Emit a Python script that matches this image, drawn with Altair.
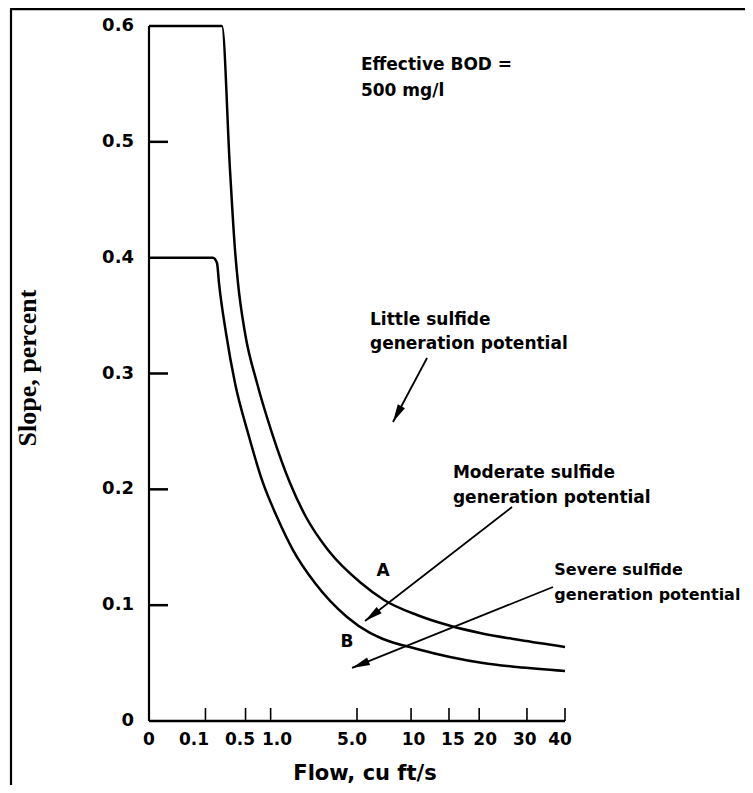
import math
import altair as alt
import pandas as pd

# ---- data ----
a_flow = [0, 0.216, 0.2953, 0.3534, 0.3917, 0.4916, 0.700, 1.034, 1.558, 2.150, 3.187, 5.294, 7.210, 10.695, 15.30, 20.15, 28.37, 40]
a_slope = [0.600, 0.600, 0.4757, 0.4067, 0.3781, 0.3350, 0.2918, 0.2486, 0.2055, 0.1761, 0.1476, 0.1191, 0.1045, 0.0915, 0.0820, 0.0760, 0.0699, 0.0639]

b_flow = [0, 0.1456, 0.1747, 0.1906, 0.2537, 0.3534, 0.5391, 0.8232, 1.1652, 1.659, 2.5416, 4.313, 5.997, 7.119, 10.695, 15.152, 20.70, 27.69, 40]
b_slope = [0.400, 0.400, 0.3954, 0.3781, 0.3350, 0.2918, 0.2486, 0.2055, 0.1761, 0.1476, 0.1191, 0.0898, 0.0760, 0.0708, 0.0622, 0.0553, 0.0501, 0.0466, 0.0432]

x_tick_values = [0, 0.1, 0.5, 1, 5, 10, 15, 20, 30, 40]
x_tick_labels = ["0", "0.1", "0.5", "1.0", "5.0", "10", "15", "20", "30", "40"]
x_label_flow = [0, 0.0506, 0.4187, 1.165, 4.648, 10.28, 15.6, 21.1, 29.5, 38.6]
y_tick_values = [0, 0.1, 0.2, 0.3, 0.4, 0.5, 0.6]
y_tick_labels = ["0", "0.1", "0.2", "0.3", "0.4", "0.5", "0.6"]

x_title = "Flow, cu ft/s"
y_title = "Slope, percent"

note_lines = ["Effective BOD  =", "500 mg/l",
              "Little sulfide", "generation potential",
              "Moderate sulfide", "generation potential",
              "Severe sulfide", "generation potential"]
note_flow = [5.29, 5.29, 6.0, 6.0, 15.6, 15.6, 37.0, 37.0]
note_slope = [0.562, 0.540, 0.342, 0.321, 0.210, 0.188, 0.126, 0.1045]
note_size = [17, 17, 17, 17, 17, 17, 16, 16]

curve_labels = ["A", "B"]
label_flow = [7.12, 4.31]
label_slope = [0.1295, 0.0682]

arrow_tail_flow = [11.94, 26.58, 36.64]
arrow_tail_slope = [0.3134, 0.1847, 0.1157]
arrow_head_flow = [8.07, 5.60, 4.65]
arrow_head_slope = [0.2581, 0.0863, 0.0458]

# ---- layout ----
W, H = 416, 695
XMAX, YMAX = 40, 0.6
FONT = "DejaVu Sans"


def px(v):
    return W * (v / XMAX) ** (1 / 3)


def py(v):
    return H * (1 - v / YMAX)


curves = pd.DataFrame({
    "flow": a_flow + b_flow,
    "slope": a_slope + b_slope,
    "curve": ["A"] * len(a_flow) + ["B"] * len(b_flow),
})
notes = pd.DataFrame({"flow": note_flow, "slope": note_slope, "text": note_lines, "size": note_size})
labels = pd.DataFrame({"flow": label_flow, "slope": label_slope, "text": curve_labels})
xlab = pd.DataFrame({"flow": x_label_flow, "text": x_tick_labels})
ylab = pd.DataFrame({"slope": y_tick_values, "text": y_tick_labels})

arrow_rows = []
head_rows = []
for i in range(len(arrow_tail_flow)):
    arrow_rows.append({"flow": arrow_tail_flow[i], "slope": arrow_tail_slope[i], "arrow": i, "o": 0})
    arrow_rows.append({"flow": arrow_head_flow[i], "slope": arrow_head_slope[i], "arrow": i, "o": 1})
    dx = px(arrow_head_flow[i]) - px(arrow_tail_flow[i])
    dy = py(arrow_head_slope[i]) - py(arrow_tail_slope[i])
    ang = math.degrees(math.atan2(dx, -dy)) % 360
    head_rows.append({"flow": arrow_head_flow[i], "slope": arrow_head_slope[i], "angle": ang})
arrows = pd.DataFrame(arrow_rows)
heads = pd.DataFrame(head_rows)

xscale = alt.Scale(type="pow", exponent=1 / 3, domain=[0, XMAX], nice=False, zero=True)
yscale = alt.Scale(domain=[0, YMAX], nice=False, zero=True)


def X(field="flow"):
    return alt.X(f"{field}:Q", scale=xscale, axis=None)


def Y(field="slope"):
    return alt.Y(f"{field}:Q", scale=yscale, axis=None)


main = alt.Chart(curves).mark_line(color="black", strokeWidth=2.5, interpolate="monotone").encode(
    x=X(), y=Y(), detail="curve:N",
)

one = pd.DataFrame({"k": [0]})
x_domain = alt.Chart(one).mark_rule(color="black", strokeWidth=2.6).encode(
    x=alt.X(datum=0, scale=xscale, axis=None), x2=alt.X2(datum=XMAX), y=alt.Y(datum=0, scale=yscale, axis=None)
)
y_domain = alt.Chart(one).mark_rule(color="black", strokeWidth=2.2).encode(
    x=alt.X(datum=0, scale=xscale, axis=None), y=alt.Y(datum=0, scale=yscale, axis=None), y2=alt.Y2(datum=YMAX)
)

xt = pd.DataFrame({"flow": x_tick_values[1:]})
x_ticks = alt.Chart(xt).mark_rule(color="black", strokeWidth=1.6).encode(
    x=X(), y=alt.value(H), y2=alt.value(H - 13),
)
yt = pd.DataFrame({"slope": [0.1, 0.2, 0.3, 0.5]})
y_ticks = alt.Chart(yt).mark_rule(color="black", strokeWidth=2.5).encode(
    y=Y(), x=alt.value(0), x2=alt.value(19),
)

x_labels = alt.Chart(xlab).mark_text(
    align="center", baseline="middle", font=FONT, fontSize=17, fontWeight="bold", color="black"
).encode(x=X(), y=alt.value(H + 19), text="text:N")
y_labels = alt.Chart(ylab).mark_text(
    align="right", baseline="middle", font=FONT, fontSize=18, fontWeight="bold", color="black"
).encode(y=Y(), x=alt.value(-15), text="text:N")

x_title_layer = alt.Chart(pd.DataFrame({"text": [x_title]})).mark_text(
    align="center", baseline="alphabetic", font=FONT, fontSize=21, fontWeight="bold", color="black"
).encode(x=alt.value(216), y=alt.value(754), text="text:N")
y_title_layer = alt.Chart(pd.DataFrame({"text": [y_title]})).mark_text(
    align="center", baseline="alphabetic", font="Liberation Serif", fontSize=26, fontWeight="bold",
    color="black", angle=270
).encode(x=alt.value(-113), y=alt.value(342), text="text:N")

note_layer = alt.Chart(notes).mark_text(
    align="left", baseline="alphabetic", font=FONT, fontWeight="bold", color="black"
).encode(x=X(), y=Y(), text="text:N", size=alt.Size("size:Q", scale=None, legend=None))
label_layer = alt.Chart(labels).mark_text(
    align="center", baseline="middle", font=FONT, fontSize=17, fontWeight="bold", color="black"
).encode(x=X(), y=Y(), text="text:N")

arrow_layer = alt.Chart(arrows).mark_line(color="black", strokeWidth=1.8).encode(
    x=X(), y=Y(), detail="arrow:N", order="o:Q",
)
head_layer = alt.Chart(heads).mark_point(
    shape="M0,0 L0.32,1.4 L-0.32,1.4 Z", size=650, filled=True, color="black", opacity=1, strokeWidth=0
).encode(x=X(), y=Y(), angle=alt.Angle("angle:Q", scale=None))

top_border = alt.Chart(one).mark_rule(color="black", strokeWidth=2.5).encode(
    x=alt.value(-139), x2=alt.value(600), y=alt.value(-17)
)
left_border = alt.Chart(one).mark_rule(color="black", strokeWidth=2.2).encode(
    x=alt.value(-138), y=alt.value(-17), y2=alt.value(770)
)

chart = alt.layer(
    main, x_domain, y_domain, x_ticks, y_ticks, x_labels, y_labels, x_title_layer, y_title_layer,
    arrow_layer, head_layer, note_layer, label_layer, top_border, left_border
).properties(
    width=W, height=H,
    autosize=alt.AutoSizeParams(type="none"),
    padding={"left": 141, "top": 18, "right": 180, "bottom": 64},
).configure_view(stroke=None)

chart.save("out.html", embed_options={"renderer": "svg", "actions": False})
